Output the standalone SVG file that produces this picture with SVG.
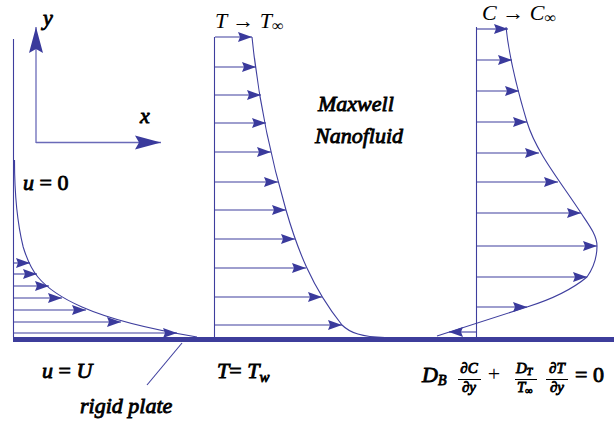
<svg xmlns="http://www.w3.org/2000/svg" width="614" height="427" viewBox="0 0 614 427">
<style>
.ln{stroke:#3e3e9e;stroke-width:1.1;fill:none}
.ar{stroke:#3e3e9e;stroke-width:1.1;fill:none;marker-end:url(#ah)}
.ax{stroke:#6a6ab8;stroke-width:1.3;fill:none;marker-end:url(#axh)}
.bi{font-family:"Liberation Serif","Times New Roman",serif;font-style:italic;font-weight:normal;fill:#000;stroke:#000;stroke-width:0.85px}
.ri{font-family:"Liberation Serif","Times New Roman",serif;font-style:italic;font-weight:normal;fill:#000}
.rn{font-family:"Liberation Serif","Times New Roman",serif;font-style:normal;font-weight:normal;fill:#000}
</style>
<defs>
<marker id="ah" markerUnits="userSpaceOnUse" viewBox="-15 -6 17 12" refX="0" refY="0" markerWidth="17" markerHeight="12" orient="auto">
<path d="M0,0 L-14,-5 L-12,0 L-14,5 Z" fill="#3a3a9c"/>
</marker>
<marker id="axh" markerUnits="userSpaceOnUse" viewBox="-28 -8 30 16" refX="0" refY="0" markerWidth="30" markerHeight="16" orient="auto">
<path d="M0,0 L-26,-7 L-22,0 L-26,7 Z" fill="#3a3a9c"/>
</marker>
</defs>
<rect width="614" height="427" fill="#fff"/>

<g id="plate">
<rect x="13" y="337" width="601" height="5" fill="#3d3d9b"/>
<line class="ln" x1="13.5" y1="39" x2="13.5" y2="337"/>
<line class="ln" x1="214.5" y1="37" x2="214.5" y2="337"/>
<line class="ln" x1="476.5" y1="27" x2="476.5" y2="337"/>
</g>

<g id="axes">
<line class="ax" x1="36" y1="143" x2="36" y2="27"/>
<line class="ax" x1="36" y1="142.5" x2="161" y2="142.5"/>
<text class="bi" x="43" y="25" font-size="22">y</text>
<text class="bi" x="140" y="123" font-size="22">x</text>
</g>

<g id="velocity-profile">
<path class="ln" d="M197,337 C137.3,327 104.7,317 82,307 C36.6,287 29.3,267 23.2,247 C16,218 14.5,189 14.5,160"/>
</g>
<g id="temperature-profile">
<path class="ln" d="M252,37 C257.8,95 269.2,152 286,210 C297.1,248.3 311.4,286.7 342,325 C350,333 362,337 385,337.5"/>
</g>
<g id="concentration-profile">
<path class="ln" d="M506,27 C509.2,58.7 517.5,90.3 527,122 C536.1,152.3 561.3,182.7 581,213 C588.2,224 597,235 597,246 C597,257 594.2,266.7 587,277 C575,287 559,297 527,307 L437,336"/>
</g>

<g id="connectors">
<line class="ar" x1="14" y1="263" x2="30" y2="263"/>
<line class="ar" x1="14" y1="274" x2="37" y2="274"/>
<line class="ar" x1="14" y1="286" x2="49" y2="286"/>
<line class="ar" x1="14" y1="298" x2="62" y2="298"/>
<line class="ar" x1="14" y1="310" x2="86" y2="310"/>
<line class="ar" x1="14" y1="322" x2="121" y2="322"/>
<line class="ar" x1="14" y1="333" x2="177" y2="333"/>

<line class="ar" x1="215" y1="37" x2="252" y2="37"/>
<line class="ar" x1="215" y1="67" x2="256" y2="67"/>
<line class="ar" x1="215" y1="95" x2="261" y2="95"/>
<line class="ar" x1="215" y1="123" x2="266" y2="123"/>
<line class="ar" x1="215" y1="152" x2="271" y2="152"/>
<line class="ar" x1="215" y1="182" x2="278" y2="182"/>
<line class="ar" x1="215" y1="210" x2="286" y2="210"/>
<line class="ar" x1="215" y1="239" x2="295" y2="239"/>
<line class="ar" x1="215" y1="268" x2="306" y2="268"/>
<line class="ar" x1="215" y1="297" x2="322" y2="297"/>
<line class="ar" x1="215" y1="325" x2="342" y2="325"/>

<line class="ar" x1="477" y1="29" x2="508" y2="29"/>
<line class="ar" x1="477" y1="60" x2="512" y2="60"/>
<line class="ar" x1="477" y1="91" x2="519" y2="91"/>
<line class="ar" x1="477" y1="122" x2="527" y2="122"/>
<line class="ar" x1="477" y1="153" x2="539" y2="153"/>
<line class="ar" x1="477" y1="182" x2="558" y2="182"/>
<line class="ar" x1="477" y1="213" x2="581" y2="213"/>
<line class="ar" x1="477" y1="246" x2="597" y2="246"/>
<line class="ar" x1="477" y1="277" x2="587" y2="277"/>
<line class="ar" x1="477" y1="307" x2="527" y2="307"/>
<line class="ar" x1="476" y1="332" x2="449" y2="332"/>

<line class="ln" x1="182" y1="343" x2="147" y2="385"/>
</g>

<g id="labels">
<text class="bi" x="23" y="190" font-size="22">u <tspan class="rn" stroke="#000" stroke-width="0.85">= 0</tspan></text>
<text class="bi" x="42" y="378" font-size="22">u <tspan class="rn" stroke="#000" stroke-width="0.85">=</tspan> U</text>
<text class="bi" x="80" y="413" font-size="22">rigid plate</text>
<text class="bi" x="217" y="378" font-size="22">T<tspan class="rn" stroke="#000" stroke-width="0.85">=</tspan> T<tspan font-size="15" dy="4">w</tspan></text>
<text class="ri" x="215" y="28" font-size="22">T <tspan class="rn">→</tspan> T<tspan font-size="16" dy="3">∞</tspan></text>
<text class="ri" x="482" y="20" font-size="22">C <tspan class="rn">→</tspan> C<tspan font-size="16" dy="3">∞</tspan></text>
<text class="bi" x="318" y="111" font-size="22" stroke-width="0.5">Maxwell</text>
<text class="bi" x="315" y="143" font-size="22" stroke-width="0.5">Nanofluid</text>
</g>

<g id="equation">
<text class="bi" x="422" y="382" font-size="22">D<tspan font-size="14" dy="3">B</tspan></text>
<text class="bi" x="469" y="373" font-size="15" text-anchor="middle" stroke-width="0.5">∂C</text>
<line x1="458" y1="379.5" x2="481" y2="379.5" stroke="#000" stroke-width="1"/>
<text class="bi" x="469" y="392" font-size="15" text-anchor="middle" stroke-width="0.5">∂y</text>
<text class="rn" x="494" y="381" font-size="22" text-anchor="middle">+</text>
<text class="bi" x="516" y="373" font-size="15" stroke-width="0.5">D<tspan font-size="10" dy="2">T</tspan></text>
<line x1="515" y1="379.5" x2="537" y2="379.5" stroke="#000" stroke-width="1"/>
<text class="bi" x="517" y="392" font-size="15" stroke-width="0.5">T<tspan font-size="10" dy="2">∞</tspan></text>
<text class="bi" x="557" y="373" font-size="15" text-anchor="middle" stroke-width="0.5">∂T</text>
<line x1="546" y1="379.5" x2="568" y2="379.5" stroke="#000" stroke-width="1"/>
<text class="bi" x="557" y="392" font-size="15" text-anchor="middle" stroke-width="0.5">∂y</text>
<text class="rn" x="575" y="382" font-size="22" stroke="#000" stroke-width="0.85">= 0</text>
</g>
</svg>
